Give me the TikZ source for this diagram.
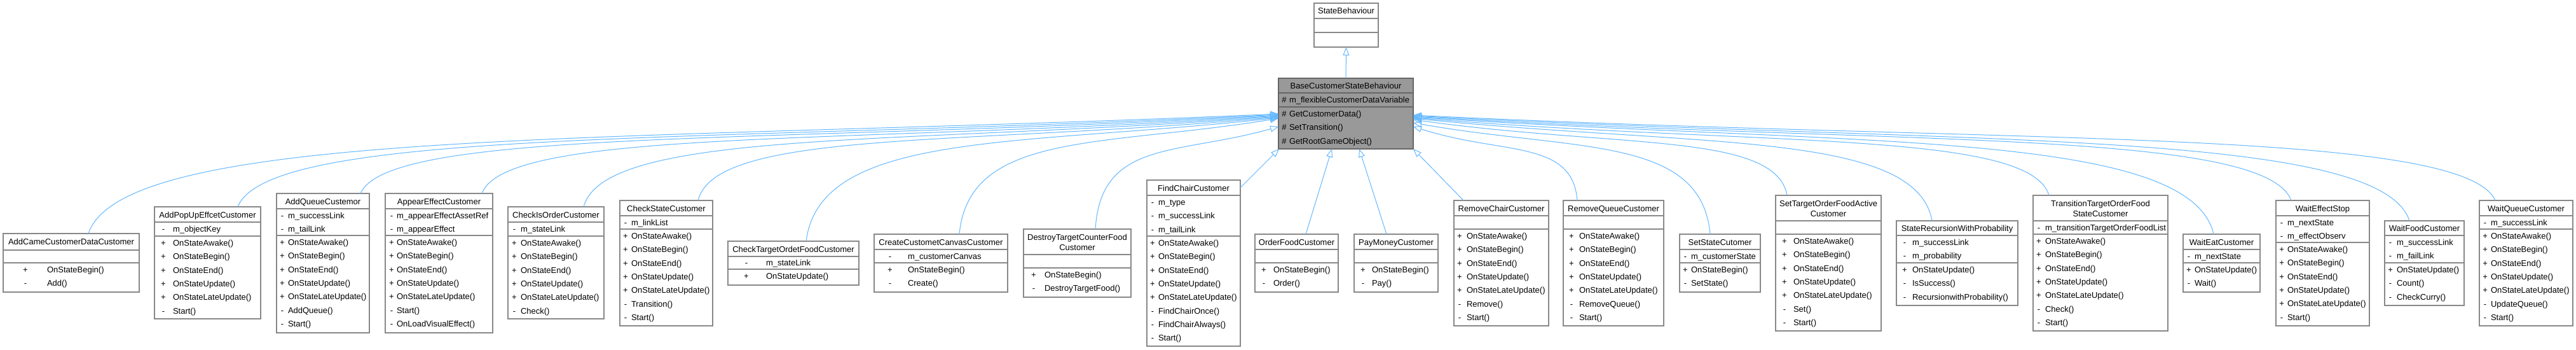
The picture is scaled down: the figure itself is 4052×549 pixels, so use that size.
\documentclass[tikz,border=0pt]{standalone}
\usepackage{fontspec}
\setmainfont{Liberation Sans}
\usetikzlibrary{arrows.meta,calc}
\definecolor{edgeblue}{HTML}{63B8FF}
\definecolor{boxgray}{HTML}{888888}
\definecolor{basegray}{HTML}{999999}
\definecolor{basedark}{HTML}{666666}
\tikzset{
  clsbox/.style={draw=boxgray, line width=1.2pt, fill=white, inner sep=0pt, outer sep=0pt},
  basebox/.style={clsbox, fill=basegray, draw=basedark},
  sepline/.style={draw=boxgray, line width=1.2pt},
  basesep/.style={draw=basedark, line width=1.2pt},
  txt/.style={inner sep=0pt, outer sep=0pt, font=\fontsize{13}{15}\selectfont, text=black},
  inh/.style={draw=edgeblue, line width=1pt, -{Triangle[open, length=13pt, width=10pt]}},
}
% #1 name, #2 L, #3 R, #4 T, #5 sep1, #6 sep2, #7 B, #8 box style, #9 sep style
\newcommand\cls[9]{%
  \node[#8, minimum width={#3-#2}, minimum height={#7-#4}, anchor=north west] (#1) at (#2,-#4) {};
  \draw[#9] (#1.west |- 0,-#5) -- (#1.east |- 0,-#5);
  \draw[#9] (#1.west |- 0,-#6) -- (#1.east |- 0,-#6);
}
% title line: #1 name, #2 node suffix, #3 centre y, #4 text
\newcommand\ttl[4]{%
  \node[txt, anchor=base] (#1-#2) at (#1.north |- 0,{-(#3+4.6)}) {#4};
}
% members: #1 prefix, #2 vis x, #3 name x, #4 compartment top, #5 list vis/name
\newcommand\mems[5]{%
  \foreach \vis/\nm [count=\i] in {#5} {
    \pgfmathsetmacro\yy{-(#4+11+21.3*(\i-1)+4.6)}
    \node[txt, anchor=base] (#1-v\i) at (#2,\yy) {\vis};
    \node[txt, anchor=base west] (#1-n\i) at (#3,\yy) {\nm};
  }%
}
% side edge: #1 child, #2 start x, #3 base anchor, #4 end y
\newcommand\sedge[4]{%
  \draw[inh] let \p1=(#2,0 |- #1.north), \p2=(base.#3 |- 0,-#4) in
    (\p1) .. controls ({\x1+0.03*(\x2-\x1)},{\y2-20}) and ({\x1+0.45*(\x2-\x1)},{\y2-45}) .. (\p2);
}
\begin{document}
\begin{tikzpicture}[x=1pt,y=1pt]
\useasboundingbox (0,0) rectangle (4052,-549);
\fill[white] (0,0) rectangle (4052,-549);

% ---------- parents ----------
\cls{sb}{2067}{2168}{5}{29}{51}{74}{clsbox}{sepline}
\ttl{sb}{t}{17}{StateBehaviour}

\cls{base}{2011}{2223}{123}{146}{168}{234}{basebox}{basesep}
\ttl{base}{t}{135}{BaseCustomerStateBehaviour}
\mems{base-a}{2020}{2028}{146}{\#/m\_flexibleCustomerDataVariable}
\mems{base-m}{2020}{2028}{168}{\#/GetCustomerData(),\#/SetTransition(),\#/GetRootGameObject()}

% ---------- children ----------
\cls{addcame}{5}{219}{367}{393}{413}{459}{clsbox}{sepline}
\ttl{addcame}{t}{380}{AddCameCustomerDataCustomer}
\mems{addcame-m}{40}{74}{413}{+/OnStateBegin(),-/Add()}

\cls{addpopup}{243}{410}{325}{349}{371}{501}{clsbox}{sepline}
\ttl{addpopup}{t}{338}{AddPopUpEffcetCustomer}
\mems{addpopup-a}{257}{272}{349}{-/m\_objectKey}
\mems{addpopup-m}{257}{272}{371}{+/OnStateAwake(),+/OnStateBegin(),+/OnStateEnd(),+/OnStateUpdate(),+/OnStateLateUpdate(),-/Start()}

\cls{addqueue}{435}{581}{304}{328}{370}{523}{clsbox}{sepline}
\ttl{addqueue}{t}{317}{AddQueueCustemor}
\mems{addqueue-a}{444}{453}{328}{-/m\_successLink,-/m\_tailLink}
\mems{addqueue-m}{444}{453}{370}{+/OnStateAwake(),+/OnStateBegin(),+/OnStateEnd(),+/OnStateUpdate(),+/OnStateLateUpdate(),-/AddQueue(),-/Start()}

\cls{appear}{606}{775}{304}{328}{370}{523}{clsbox}{sepline}
\ttl{appear}{t}{317}{AppearEffectCustomer}
\mems{appear-a}{616}{624}{328}{-/m\_appearEffectAssetRef,-/m\_appearEffect}
\mems{appear-m}{616}{624}{370}{+/OnStateAwake(),+/OnStateBegin(),+/OnStateEnd(),+/OnStateUpdate(),+/OnStateLateUpdate(),-/Start(),-/OnLoadVisualEffect()}

\cls{checkisorder}{799}{950}{325}{349}{371}{501}{clsbox}{sepline}
\ttl{checkisorder}{t}{338}{CheckIsOrderCustomer}
\mems{checkisorder-a}{809}{819}{349}{-/m\_stateLink}
\mems{checkisorder-m}{809}{819}{371}{+/OnStateAwake(),+/OnStateBegin(),+/OnStateEnd(),+/OnStateUpdate(),+/OnStateLateUpdate(),-/Check()}

\cls{checkstate}{975}{1121}{315}{339}{360}{512}{clsbox}{sepline}
\ttl{checkstate}{t}{328}{CheckStateCustomer}
\mems{checkstate-a}{984}{993}{339}{-/m\_linkList}
\mems{checkstate-m}{984}{993}{360}{+/OnStateAwake(),+/OnStateBegin(),+/OnStateEnd(),+/OnStateUpdate(),+/OnStateLateUpdate(),-/Transition(),-/Start()}

\cls{checktarget}{1145}{1351}{379}{403}{423}{448}{clsbox}{sepline}
\ttl{checktarget}{t}{392}{CheckTargetOrdetFoodCustomer}
\mems{checktarget-a}{1174}{1205}{402}{-/m\_stateLink}
\mems{checktarget-m}{1174}{1205}{423}{+/OnStateUpdate()}

\cls{create}{1375}{1585}{368}{392}{413}{459}{clsbox}{sepline}
\ttl{create}{t}{381}{CreateCustometCanvasCustomer}
\mems{create-a}{1400}{1428}{392}{-/m\_customerCanvas}
\mems{create-m}{1400}{1428}{413}{+/OnStateBegin(),-/Create()}

\cls{destroy}{1610}{1779}{360}{400}{421}{467}{clsbox}{sepline}
\ttl{destroy}{t}{373}{DestroyTargetCounterFood}
\ttl{destroy}{t2}{389}{Customer}
\mems{destroy-m}{1626}{1643}{421}{+/OnStateBegin(),-/DestroyTargetFood()}

\cls{findchair}{1804}{1951}{283}{307}{371}{544}{clsbox}{sepline}
\ttl{findchair}{t}{296}{FindChairCustomer}
\mems{findchair-a}{1813}{1822}{307}{-/m\_type,-/m\_successLink,-/m\_tailLink}
\mems{findchair-m}{1813}{1822}{371}{+/OnStateAwake(),+/OnStateBegin(),+/OnStateEnd(),+/OnStateUpdate(),+/OnStateLateUpdate(),-/FindChairOnce(),-/FindChairAlways(),-/Start()}

\cls{orderfood}{1974}{2105}{368}{392}{413}{459}{clsbox}{sepline}
\ttl{orderfood}{t}{381}{OrderFoodCustomer}
\mems{orderfood-m}{1988}{2003}{413}{+/OnStateBegin(),-/Order()}

\cls{paymoney}{2130}{2262}{368}{392}{413}{459}{clsbox}{sepline}
\ttl{paymoney}{t}{381}{PayMoneyCustomer}
\mems{paymoney-m}{2144}{2158}{413}{+/OnStateBegin(),-/Pay()}

\cls{removechair}{2287}{2436}{315}{339}{360}{512}{clsbox}{sepline}
\ttl{removechair}{t}{328}{RemoveChairCustomer}
\mems{removechair-m}{2296}{2307}{360}{+/OnStateAwake(),+/OnStateBegin(),+/OnStateEnd(),+/OnStateUpdate(),+/OnStateLateUpdate(),-/Remove(),-/Start()}

\cls{removequeue}{2459}{2617}{315}{339}{360}{512}{clsbox}{sepline}
\ttl{removequeue}{t}{328}{RemoveQueueCustomer}
\mems{removequeue-m}{2472}{2484}{360}{+/OnStateAwake(),+/OnStateBegin(),+/OnStateEnd(),+/OnStateUpdate(),+/OnStateLateUpdate(),-/RemoveQueue(),-/Start()}

\cls{setstate}{2642}{2769}{368}{392}{413}{459}{clsbox}{sepline}
\ttl{setstate}{t}{381}{SetStateCutomer}
\mems{setstate-a}{2651}{2660}{392}{-/m\_customerState}
\mems{setstate-m}{2651}{2660}{413}{+/OnStateBegin(),-/SetState()}

\cls{settarget}{2793}{2959}{307}{347}{368}{520}{clsbox}{sepline}
\ttl{settarget}{t}{320}{SetTargetOrderFoodActive}
\ttl{settarget}{t2}{336}{Customer}
\mems{settarget-m}{2807}{2821}{368}{+/OnStateAwake(),+/OnStateBegin(),+/OnStateEnd(),+/OnStateUpdate(),+/OnStateLateUpdate(),-/Set(),-/Start()}

\cls{staterec}{2983}{3174}{347}{370}{413}{480}{clsbox}{sepline}
\ttl{staterec}{t}{359}{StateRecursionWithProbability}
\mems{staterec-a}{2996}{3008}{370}{-/m\_successLink,-/m\_probability}
\mems{staterec-m}{2996}{3008}{413}{+/OnStateUpdate(),-/IsSuccess(),-/RecursionwithProbability()}

\cls{transition}{3198}{3410}{307}{347}{368}{520}{clsbox}{sepline}
\ttl{transition}{t}{320}{TransitionTargetOrderFood}
\ttl{transition}{t2}{336}{StateCustomer}
\mems{transition-a}{3207}{3217}{347}{-/m\_transitionTargetOrderFoodList}
\mems{transition-m}{3207}{3217}{368}{+/OnStateAwake(),+/OnStateBegin(),+/OnStateEnd(),+/OnStateUpdate(),+/OnStateLateUpdate(),-/Check(),-/Start()}

\cls{waiteat}{3434}{3555}{368}{392}{413}{459}{clsbox}{sepline}
\ttl{waiteat}{t}{381}{WaitEatCustomer}
\mems{waiteat-a}{3443}{3452}{392}{-/m\_nextState}
\mems{waiteat-m}{3443}{3452}{413}{+/OnStateUpdate(),-/Wait()}

\cls{waiteffect}{3580}{3727}{315}{339}{381}{512}{clsbox}{sepline}
\ttl{waiteffect}{t}{328}{WaitEffectStop}
\mems{waiteffect-a}{3589}{3598}{339}{-/m\_nextState,-/m\_effectObserv}
\mems{waiteffect-m}{3589}{3598}{381}{+/OnStateAwake(),+/OnStateBegin(),+/OnStateEnd(),+/OnStateUpdate(),+/OnStateLateUpdate(),-/Start()}

\cls{waitfood}{3751}{3876}{347}{370}{413}{480}{clsbox}{sepline}
\ttl{waitfood}{t}{359}{WaitFoodCustomer}
\mems{waitfood-a}{3760}{3770}{370}{-/m\_successLink,-/m\_failLink}
\mems{waitfood-m}{3760}{3770}{413}{+/OnStateUpdate(),-/Count(),-/CheckCurry()}

\cls{waitqueue}{3900}{4047}{315}{339}{360}{512}{clsbox}{sepline}
\ttl{waitqueue}{t}{328}{WaitQueueCustomer}
\mems{waitqueue-a}{3909}{3918}{339}{-/m\_successLink}
\mems{waitqueue-m}{3909}{3918}{360}{+/OnStateAwake(),+/OnStateBegin(),+/OnStateEnd(),+/OnStateUpdate(),+/OnStateLateUpdate(),-/UpdateQueue(),-/Start()}

% ---------- connectors ----------
\draw[inh] (base.north) -- (sb.south);

\sedge{addcame}{139}{west}{179}
\sedge{addpopup}{374}{west}{180}
\sedge{addqueue}{567}{west}{181}
\sedge{appear}{758}{west}{182}
\sedge{checkisorder}{918}{west}{183}
\sedge{checkstate}{1098}{west}{184}
\sedge{checktarget}{1268}{west}{185}
\sedge{create}{1509}{west}{186}
\sedge{destroy}{1723}{west}{199}

\draw[inh] (findchair.east |- 0,-295) -- (2012,0 |- base.south);
\draw[inh] (2054,0 |- orderfood.north) -- (2095,0 |- base.south);
\draw[inh] (2181,0 |- paymoney.north) -- (2138,0 |- base.south);
\draw[inh] (2302,0 |- removechair.north) -- (base.south east);

\sedge{removequeue}{2481}{east}{199}
\sedge{setstate}{2690}{east}{193}
\sedge{settarget}{2811}{east}{188}
\sedge{staterec}{3039}{east}{186}
\sedge{transition}{3223}{east}{185}
\sedge{waiteat}{3482}{east}{184}
\sedge{waiteffect}{3604}{east}{183}
\sedge{waitfood}{3790}{east}{182}
\sedge{waitqueue}{3925}{east}{181}
\end{tikzpicture}
\end{document}
